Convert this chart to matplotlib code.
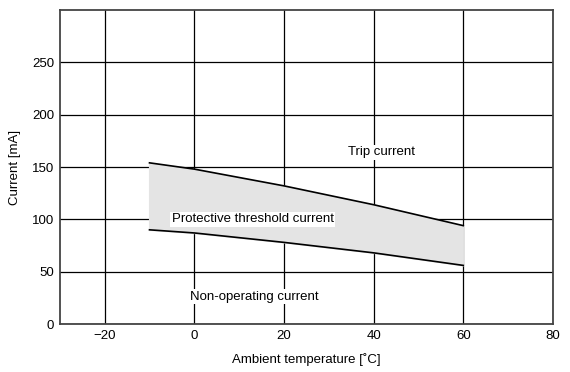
import numpy as np
import matplotlib.pyplot as plt

plt.rcParams['font.family'] = ['Liberation Sans', 'DejaVu Sans']

# ambient temperature [C] and current bounds [mA]
temps = [-10, 0, 20, 40, 60]
trip_current = [154, 148, 132, 114, 94]
non_operating = [90, 87, 78, 68, 56]

x_ticks = [-20, 0, 20, 40, 60, 80]
y_ticks = [0, 50, 100, 150, 200, 250]

fig = plt.figure(figsize=(5.7, 3.72), dpi=100)
ax = fig.add_axes([0.105, 0.129, 0.865, 0.844])

ax.fill_between(temps, non_operating, trip_current, color="#e4e4e4", zorder=1)
ax.plot(temps, trip_current, color="k", lw=1.2, zorder=3)
ax.plot(temps, non_operating, color="k", lw=1.2, zorder=3)
ax.plot([temps[0], temps[0]], [non_operating[0], trip_current[0]], color="#e4e4e4", lw=0.8, zorder=2)

ax.set_xlim(-30, 80)
ax.set_ylim(0, 300)
ax.set_xticks(x_ticks)
ax.set_xticklabels(["\u221220", "0", "20", "40", "60", "80"])
ax.set_yticks(y_ticks)
ax.grid(True, color="k", lw=0.9)
ax.set_axisbelow(True)
ax.tick_params(length=0, labelsize=9.5, pad=4)
for s in ax.spines.values():
    s.set_color("#444444")
    s.set_linewidth(1.3)

box = dict(facecolor="white", edgecolor="none", pad=1)
fs = 9.5
ax.text(41.8, 164, "Trip current", ha="center", va="center", fontsize=fs, bbox=box, zorder=4)
ax.text(13, 100, "Protective threshold current", ha="center", va="center", fontsize=fs, bbox=box, zorder=4)
ax.text(13.4, 26, "Non-operating current", ha="center", va="center", fontsize=fs, bbox=box, zorder=4)

ax.set_xlabel("Ambient temperature [\u02daC]", fontsize=fs, labelpad=8)
ax.set_ylabel("Current [mA]", fontsize=fs, labelpad=8)

fig.savefig("out.png", dpi=100)
